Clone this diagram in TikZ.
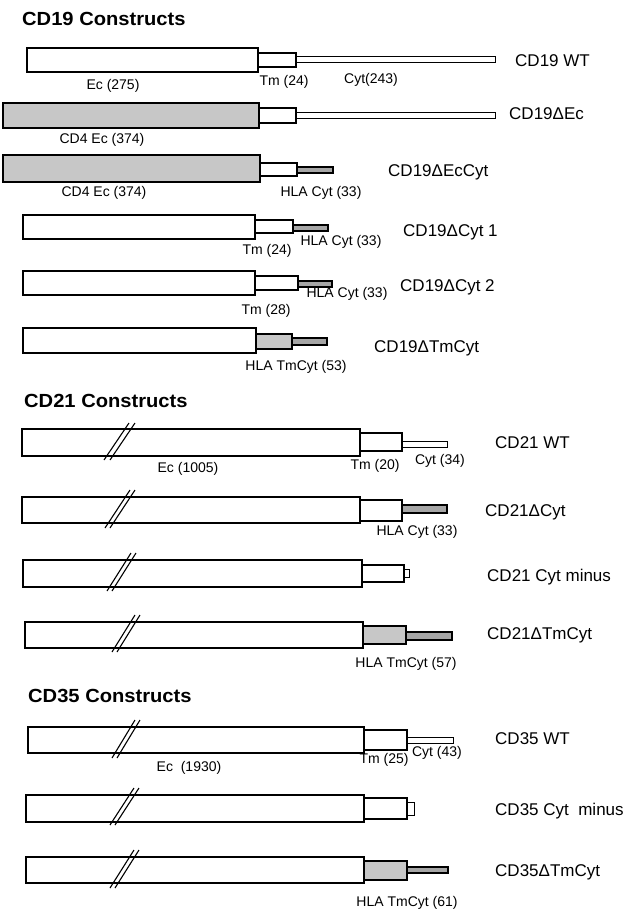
\documentclass[tikz,border=0pt]{standalone}
\usepackage{fontspec}
\setmainfont{Liberation Sans}
\newfontfamily\ttlfont{Liberation Sans Bold}[FakeStretch=1.06]
\begin{document}
\begin{tikzpicture}[x=1pt,y=-1pt,
  ecbox/.style={draw, line width=1.1pt, fill=white},
  shadebox/.style={draw, line width=1.1pt, fill=black!22},
  hlabar/.style={draw, line width=1.3pt, fill=black!35},
  cytbar/.style={draw, line width=1.0pt, fill=white},
  brk/.style={line width=1.1pt},
  lab/.style={font=\fontsize{17}{17}\selectfont, anchor=west, inner sep=0pt},
  sml/.style={font=\fontsize{14}{14}\selectfont, inner sep=0pt},
  ttl/.style={font=\ttlfont\fontsize{19}{19}\selectfont, anchor=west, inner sep=0pt}]
\useasboundingbox (0,0) rectangle (629,909);

% ---------------- CD19 ----------------
\node[ttl] (t19) at (22,19) {CD19 Constructs};

% CD19 WT
\draw[ecbox] (27,48) rectangle (258,72);
\draw[ecbox] (258,53) rectangle (296,67);
\draw[cytbar] (296,57) rectangle (495,63);
\node[lab] (l1) at (515,61) {CD19 WT};
\node[sml] (l1a) at (113,86) {Ec (275)};
\node[sml] (l1b) at (284,82) {Tm (24)};
\node[sml] (l1c) at (371,80) {Cyt(243)};

% CD19 dEc
\draw[shadebox] (3,103) rectangle (259,128);
\draw[ecbox] (259,108) rectangle (296,123);
\draw[cytbar] (296,113) rectangle (495,119);
\node[lab] (l2) at (509,114) {CD19ΔEc};
\node[sml] (l2a) at (102,140) {CD4 Ec (374)};

% CD19 dEcCyt
\draw[shadebox] (3,155) rectangle (260,182);
\draw[ecbox] (260,163) rectangle (297,176);
\draw[hlabar] (297,167) rectangle (333,173);
\node[lab] (l3) at (388,172) {CD19ΔEcCyt};
\node[sml] (l3a) at (104,193) {CD4 Ec (374)};
\node[sml] (l3b) at (321,193) {HLA Cyt (33)};

% CD19 dCyt 1
\draw[ecbox] (23,215) rectangle (255,239);
\draw[ecbox] (255,220) rectangle (293,233);
\draw[hlabar] (293,225) rectangle (328,231);
\node[lab] (l4) at (403,232) {CD19ΔCyt 1};
\node[sml] (l4a) at (267,251) {Tm (24)};
\node[sml] (l4b) at (341,242) {HLA Cyt (33)};

% CD19 dCyt 2
\draw[ecbox] (23,271) rectangle (255,295);
\draw[ecbox] (255,276) rectangle (298,290);
\draw[hlabar] (298,281) rectangle (332,287);
\node[lab] (l5) at (400,287) {CD19ΔCyt 2};
\node[sml] (l5a) at (266,311) {Tm (28)};
\node[sml] (l5b) at (347,294) {HLA Cyt (33)};

% CD19 dTmCyt
\draw[ecbox] (23,328) rectangle (256,353);
\draw[shadebox] (256,334) rectangle (292,349);
\draw[hlabar] (292,338) rectangle (327,345);
\node[lab] (l6) at (374,348) {CD19ΔTmCyt};
\node[sml] (l6a) at (296,367) {HLA TmCyt (53)};

% ---------------- CD21 ----------------
\node[ttl] (t21) at (24,401) {CD21 Constructs};

% CD21 WT
\draw[ecbox] (22,429) rectangle (360,456);
\draw[ecbox] (360,433) rectangle (402,451);
\draw[cytbar] (402,441) rectangle (447,447);
\draw[brk] (104,460) -- (129,423);
\draw[brk] (110,460) -- (135,423);
\node[lab] (l7) at (495,443) {CD21 WT};
\node[sml] (l7a) at (188,469) {Ec (1005)};
\node[sml] (l7b) at (375,466) {Tm (20)};
\node[sml] (l7c) at (440,461) {Cyt (34)};

% CD21 dCyt
\draw[ecbox] (22,497) rectangle (360,523);
\draw[ecbox] (360,500) rectangle (402,521);
\draw[hlabar] (402,505) rectangle (447,513);
\draw[brk] (105,528) -- (130,490);
\draw[brk] (110,528) -- (135,490);
\node[lab] (l8) at (485,512) {CD21ΔCyt};
\node[sml] (l8a) at (417,532) {HLA Cyt (33)};

% CD21 Cyt minus
\draw[ecbox] (23,560) rectangle (362,587);
\draw[ecbox] (362,565) rectangle (404,582);
\draw[cytbar] (404,569) rectangle (409,577);
\draw[brk] (107,591) -- (131,553);
\draw[brk] (112,591) -- (136,553);
\node[lab] (l9) at (487,577) {CD21 Cyt minus};

% CD21 dTmCyt
\draw[ecbox] (25,622) rectangle (363,648);
\draw[shadebox] (363,626) rectangle (406,644);
\draw[hlabar] (406,632) rectangle (452,640);
\draw[brk] (112,652) -- (135,615);
\draw[brk] (117,652) -- (140,615);
\node[lab] (l10) at (487,635) {CD21ΔTmCyt};
\node[sml] (l10a) at (406,664) {HLA TmCyt (57)};

% ---------------- CD35 ----------------
\node[ttl] (t35) at (28,696) {CD35 Constructs};

% CD35 WT
\draw[ecbox] (28,727) rectangle (364,753);
\draw[ecbox] (364,730) rectangle (407,750);
\draw[cytbar] (407,737) rectangle (453,743);
\draw[brk] (112,758) -- (135,720);
\draw[brk] (117,758) -- (140,720);
\node[lab] (l11) at (495,739) {CD35 WT};
\node[sml] (l11a) at (189,768) {Ec\ \ (1930)};
\node[sml] (l11b) at (384,760) {Tm (25)};
\node[sml] (l11c) at (437,753) {Cyt (43)};

% CD35 Cyt minus
\draw[ecbox] (26,795) rectangle (364,822);
\draw[ecbox] (364,798) rectangle (407,819);
\draw[cytbar] (407,802) rectangle (414,815);
\draw[brk] (110,825) -- (134,788);
\draw[brk] (115,825) -- (139,788);
\node[lab] (l12) at (495,811) {CD35 Cyt\ \ minus};

% CD35 dTmCyt
\draw[ecbox] (26,857) rectangle (364,883);
\draw[shadebox] (364,861) rectangle (407,880);
\draw[hlabar] (407,867) rectangle (448,873);
\draw[brk] (110,888) -- (134,850);
\draw[brk] (115,888) -- (139,850);
\node[lab] (l13) at (495,872) {CD35ΔTmCyt};
\node[sml] (l13a) at (407,903) {HLA TmCyt (61)};
\end{tikzpicture}
\end{document}
